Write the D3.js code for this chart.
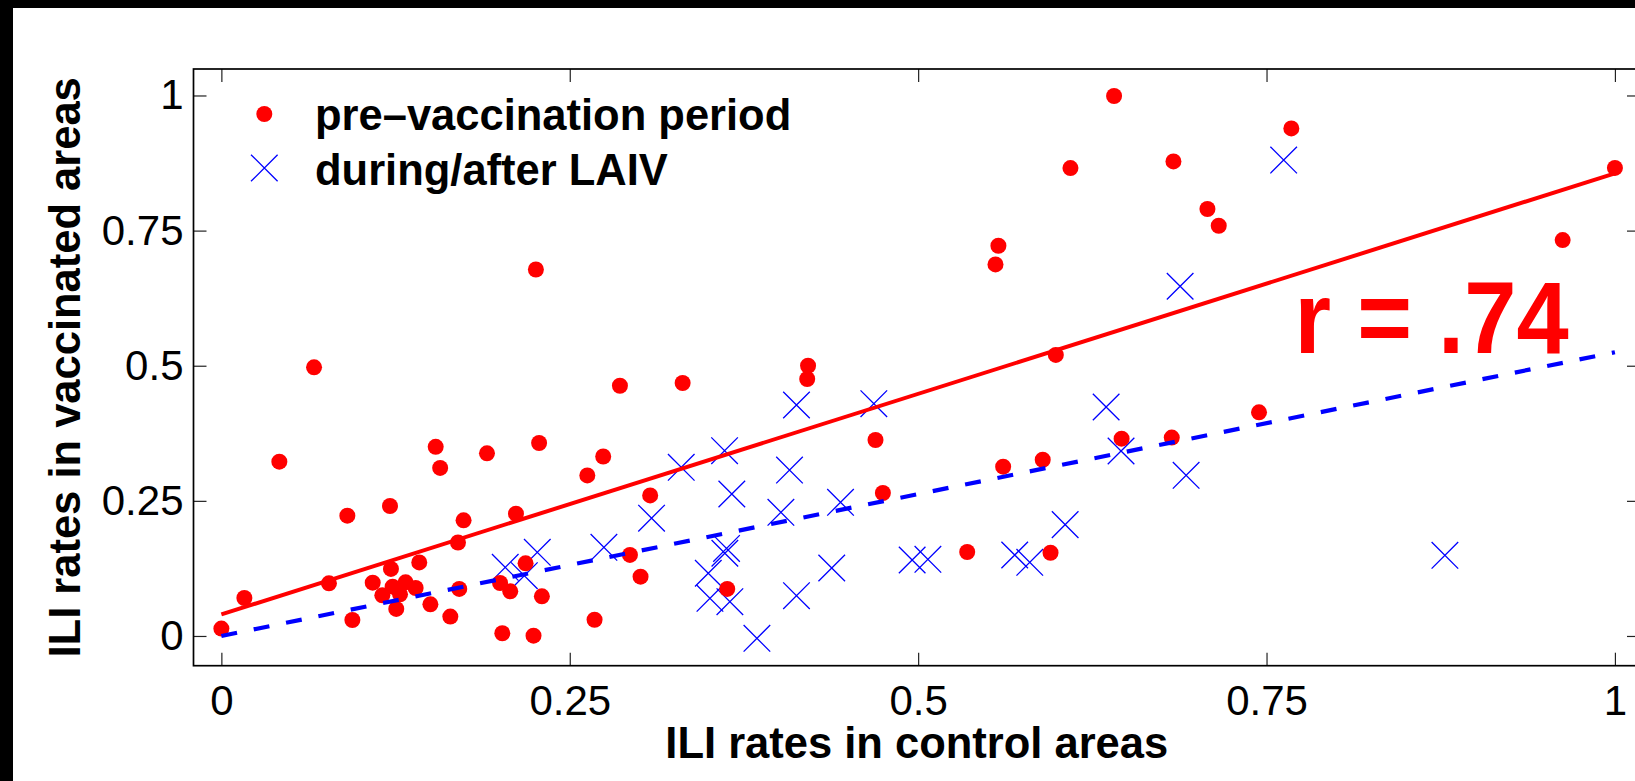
<!DOCTYPE html>
<meta charset="utf-8">

<script src="https://d3js.org/d3.v7.min.js"></script>

<style type="text/css">
  body { margin: 0; background: #000; }
  svg { display: block; }
  text { font-family: "Liberation Sans", Arial, Helvetica, sans-serif; }
  .axis text { font-size: 42px; fill: #000; }
  .axis line { stroke: #222; stroke-width: 1.2px; }
  .axis path { display: none; }
  .label { font-size: 43.5px; font-weight: bold; }
</style>

<body>
</body>

<script>

  // pre-vaccination period (red dots)
  let preX = [0.0665, 0.286, 0.331, 0.0416, 0.1538, 0.157, 0.1906, 0.228, 0.274, 0.2626,
    0.3077, 0.121, 0.0904, 0.1738, 0.2114, 0.1698, 0.0165, 0.0772, 0.1217, 0.142,
    0.1086, 0.1229, 0.1322, 0.1394, 0.1155, 0.1282, 0.1255, 0.150, 0.1643, 0.094,
    0.0, 0.1707, 0.200, 0.2073, 0.2183, 0.230, 0.2016, 0.224, 0.2678, 0.2932,
    0.3008, 0.421, 0.4204, 0.4694, 0.4747, 0.363, 0.5352, 0.561, 0.5894, 0.595,
    0.646, 0.682, 0.5988, 0.7446, 0.2257, 0.6406, 0.6093, 0.6832, 0.7076, 0.7157,
    0.5576, 0.5555, 0.7678, 1.0, 0.9625];
  let preY = [0.497, 0.463, 0.468, 0.3225, 0.350, 0.311, 0.338, 0.357, 0.332, 0.297,
    0.260, 0.2405, 0.2226, 0.214, 0.2263, 0.173, 0.0703, 0.0974, 0.124, 0.136,
    0.0987, 0.0913, 0.0993, 0.0888, 0.0752, 0.0771, 0.050, 0.0586, 0.0358, 0.0296,
    0.0136, 0.087, 0.098, 0.0826, 0.1344, 0.0734, 0.005, 0.0006, 0.030, 0.150,
    0.1098, 0.500, 0.4754, 0.3626, 0.2645, 0.087, 0.1554, 0.3132, 0.326, 0.154,
    0.365, 0.367, 0.52, 0.4137, 0.678, 0.999, 0.8657, 0.878, 0.790, 0.759,
    0.722, 0.6875, 0.939, 0.866, 0.7325];

  // during/after LAIV (blue crosses)
  let postX = [0.330, 0.3087, 0.2267, 0.2745, 0.2037, 0.2174, 0.4127, 0.4682, 0.6349, 0.3611,
    0.4077, 0.3663, 0.4015, 0.4443, 0.6456, 0.6923, 0.6055, 0.3625, 0.3613, 0.3494,
    0.3506, 0.3649, 0.4127, 0.3843, 0.438, 0.4957, 0.507, 0.5693, 0.5801, 0.878,
    0.688, 0.7623];
  let postY = [0.312, 0.218, 0.1548, 0.164, 0.127, 0.1116, 0.4273, 0.4298, 0.4236, 0.3428,
    0.307, 0.2627, 0.2288, 0.2473, 0.3422, 0.2972, 0.206, 0.162, 0.153, 0.116,
    0.0697, 0.0635, 0.0746, -0.0043, 0.1258, 0.1406, 0.1418, 0.1498, 0.1363, 0.1492,
    0.647, 0.8805];

  // fitted lines
  let fitX = [0, 1];
  let fitPreY = [0.04, 0.856];
  let fitPostY = [0, 0.525];

  let tickValues = [0, 0.25, 0.5, 0.75, 1];
  let tickLabels = ["0", "0.25", "0.5", "0.75", "1"];

  let legendLabels = ["pre\u2013vaccination period", "during/after LAIV"];

  let W = 1635, H = 781;
  let box = { left: 193.5, right: 1640, top: 69, bottom: 665.7 };

  let svg = d3.select("body").append("svg")
    .attr("width", W)
    .attr("height", H);

  // black frame on top / left
  svg.append("rect").attr("width", W).attr("height", H).attr("fill", "#000");
  svg.append("rect").attr("x", 13).attr("y", 8)
    .attr("width", W - 13).attr("height", H - 8).attr("fill", "#fff");

  let xScale = d3.scaleLinear().domain([-0.02, 1.018]).range([box.left, box.right]);
  let yScale = d3.scaleLinear().domain([-0.055, 1.049]).range([box.bottom, box.top]);

  let fmt = d => tickLabels[tickValues.indexOf(d)];

  svg.append("g").attr("class", "x axis")
    .attr("transform", `translate(0, ${box.bottom})`)
    .call(d3.axisBottom(xScale).tickValues(tickValues).tickFormat(fmt)
      .tickSize(-13).tickSizeOuter(0).tickPadding(19));

  svg.append("g").attr("class", "x axis")
    .attr("transform", `translate(0, ${box.top})`)
    .call(d3.axisTop(xScale).tickValues(tickValues).tickFormat("")
      .tickSize(-13).tickSizeOuter(0));

  svg.append("g").attr("class", "y axis")
    .attr("transform", `translate(${box.left}, 0)`)
    .call(d3.axisLeft(yScale).tickValues(tickValues).tickFormat(fmt)
      .tickSize(-13).tickSizeOuter(0).tickPadding(10));

  svg.append("g").attr("class", "y axis")
    .attr("transform", `translate(${box.right}, 0)`)
    .call(d3.axisRight(yScale).tickValues(tickValues).tickFormat("")
      .tickSize(-13).tickSizeOuter(0));

  svg.selectAll(".x.axis text").attr("dy", "0.71em");

  svg.append("rect")
    .attr("x", box.left).attr("y", box.top)
    .attr("width", box.right - box.left).attr("height", box.bottom - box.top)
    .attr("fill", "none").attr("stroke", "#000").attr("stroke-width", 1.7);

  // markers
  let crossPath = s => `M${-s},${-s}L${s},${s}M${-s},${s}L${s},${-s}`;

  svg.append("g").selectAll("path")
    .data(d3.range(postX.length)).enter().append("path")
    .attr("transform", i => `translate(${xScale(postX[i])}, ${yScale(postY[i])})`)
    .attr("d", crossPath(13.3))
    .attr("stroke", "#0000ff").attr("stroke-width", 1.3).attr("fill", "none");

  svg.append("g").selectAll("circle")
    .data(d3.range(preX.length)).enter().append("circle")
    .attr("cx", i => xScale(preX[i]))
    .attr("cy", i => yScale(preY[i]))
    .attr("r", 8)
    .attr("fill", "#ff0000");

  // regression lines
  let line = d3.line().x(d => xScale(d[0])).y(d => yScale(d[1]));

  svg.append("path")
    .attr("d", line(fitX.map((x, i) => [x, fitPreY[i]])))
    .attr("stroke", "#ff0000").attr("stroke-width", 4).attr("fill", "none");

  svg.append("path")
    .attr("d", line(fitX.map((x, i) => [x, fitPostY[i]])))
    .attr("stroke", "#0000ff").attr("stroke-width", 4.2).attr("fill", "none")
    .attr("stroke-dasharray", "16,17");

  // annotation
  svg.append("text")
    .attr("x", 1294.6).attr("y", 353)
    .attr("font-size", 102).attr("font-weight", "bold")
    .attr("fill", "#ff0000")
    .attr("textLength", 274).attr("lengthAdjust", "spacingAndGlyphs")
    .text("r = .74");

  // legend
  let legend = svg.append("g");
  legend.append("circle").attr("cx", 264.3).attr("cy", 114).attr("r", 8).attr("fill", "#ff0000");
  legend.append("path").attr("transform", "translate(264.3, 168)")
    .attr("d", crossPath(13.3))
    .attr("stroke", "#0000ff").attr("stroke-width", 1.3).attr("fill", "none");
  legend.selectAll("text")
    .data(legendLabels).enter().append("text")
    .attr("class", "label")
    .attr("x", 315)
    .attr("y", (d, i) => 130 + i * 55)
    .attr("font-size", 44)
    .text(d => d);

  // axis titles
  svg.append("text").attr("class", "label")
    .attr("x", (box.left + box.right) / 2).attr("y", 758)
    .attr("text-anchor", "middle")
    .text("ILI rates in control areas");

  svg.append("text").attr("class", "label")
    .attr("transform", `translate(79.5, ${(box.top + box.bottom) / 2}) rotate(-90)`)
    .attr("text-anchor", "middle")
    .text("ILI rates in vaccinated areas");

</script>
